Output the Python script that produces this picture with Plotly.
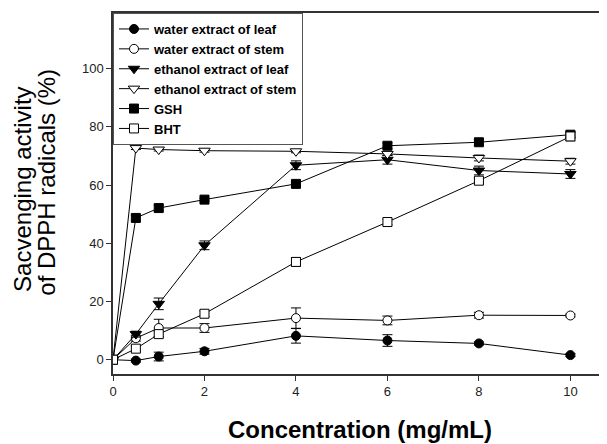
import plotly.graph_objects as go

conc = [0, 0.5, 1, 2, 4, 6, 8, 10]

water_leaf = [0, -0.3, 1.1, 2.9, 8.2, 6.6, 5.6, 1.6]
water_leaf_err = [0, 0.5, 1.5, 1.0, 2.5, 2.0, 0.5, 0.5]

water_stem = [0, 7.4, 10.9, 10.9, 14.3, 13.5, 15.3, 15.2]
water_stem_err = [0, 1.0, 3.0, 1.5, 3.5, 1.5, 1.0, 0.5]

ethanol_leaf = [0, 8.8, 19.2, 39.3, 66.8, 68.7, 65.0, 63.8]
ethanol_leaf_err = [0, 1.0, 2.0, 1.5, 1.5, 1.5, 1.5, 1.5]

ethanol_stem = [0, 72.7, 72.2, 71.8, 71.6, 70.7, 69.3, 68.2]
ethanol_stem_err = [0, 0.5, 0.5, 0.5, 0.5, 0.5, 1.0, 1.0]

gsh = [0, 48.7, 52.1, 55.0, 60.4, 73.5, 74.7, 77.3]
gsh_err = [0, 1.0, 1.0, 0.5, 1.0, 1.0, 1.0, 1.0]

bht = [0, 3.8, 8.8, 15.8, 33.6, 47.3, 61.5, 76.7]
bht_err = [0, 1.0, 1.0, 1.0, 1.5, 1.0, 1.0, 1.5]

y_title_lines = ["Sacvenging activity", "of DPPH radicals (%)"]
x_title = "Concentration (mg/mL)"

series = [
    ("water extract of leaf", water_leaf, water_leaf_err, "circle", "black", 9),
    ("water extract of stem", water_stem, water_stem_err, "circle", "white", 9),
    ("ethanol extract of leaf", ethanol_leaf, ethanol_leaf_err, "triangle-down", "black", 10),
    ("ethanol extract of stem", ethanol_stem, ethanol_stem_err, "triangle-down", "white", 10),
    ("GSH", gsh, gsh_err, "square", "black", 9),
    ("BHT", bht, bht_err, "square", "white", 9),
]

FONT = "Liberation Sans, Arial, sans-serif"

fig = go.Figure()
for name, ys, err, sym, fill, size in series:
    fig.add_trace(go.Scatter(
        x=conc, y=ys, name=name, mode="lines+markers",
        line=dict(color="black", width=1),
        marker=dict(symbol=sym, color=fill, size=size,
                    line=dict(color="black", width=1)),
        error_y=dict(type="data", array=err, visible=True,
                     color="black", thickness=1, width=5),
    ))

axis_font = dict(family=FONT, size=13, color="#222")

# page has an 8px body margin; figure sized to fit inside the window
W, H = 599, 436
L, T, R, B = 105, 5, 0, 70

fig.update_layout(
    width=W, height=H,
    margin=dict(l=L, r=R, t=T, b=B),
    plot_bgcolor="white", paper_bgcolor="white",
    font=dict(family=FONT, color="black"),
    showlegend=True,
    legend=dict(
        x=0, y=1, xanchor="left", yanchor="top",
        bgcolor="white", bordercolor="#555", borderwidth=1,
        font=dict(family=FONT, size=13, color="black", weight="bold"),
        tracegroupgap=0, entrywidth=170, entrywidthmode="pixels",
    ),
    xaxis=dict(
        range=[0, 10.8], tickvals=[0, 2, 4, 6, 8, 10],
        showline=True, linecolor="#333", linewidth=1.5, mirror=True,
        ticks="outside", ticklen=5, tickcolor="#333", tickwidth=1,
        showgrid=False, zeroline=False, tickfont=axis_font,
    ),
    yaxis=dict(
        range=[-4.9, 119.1], tickvals=[0, 20, 40, 60, 80, 100],
        showline=True, linecolor="#333", linewidth=1.5,
        ticks="outside", ticklen=5, tickcolor="#333", tickwidth=1,
        showgrid=False, zeroline=False, tickfont=axis_font,
    ),
)

# y-axis title: two tightly spaced lines
fig.add_annotation(text=y_title_lines[0], xref="paper", yref="paper",
                   x=0, y=0.51, xanchor="center", yanchor="middle",
                   xshift=-90, textangle=-90, showarrow=False,
                   font=dict(family=FONT, size=24, color="black"))
fig.add_annotation(text=y_title_lines[1], xref="paper", yref="paper",
                   x=0, y=0.53, xanchor="center", yanchor="middle",
                   xshift=-66, textangle=-90, showarrow=False,
                   font=dict(family=FONT, size=24, color="black"))
# x-axis title
fig.add_annotation(text="<b>" + x_title + "</b>", xref="paper", yref="paper",
                   x=0.5, y=0, xanchor="center", yanchor="middle",
                   yshift=-55, showarrow=False,
                   font=dict(family=FONT, size=24, color="black"))

fig.write_html("out.html")
